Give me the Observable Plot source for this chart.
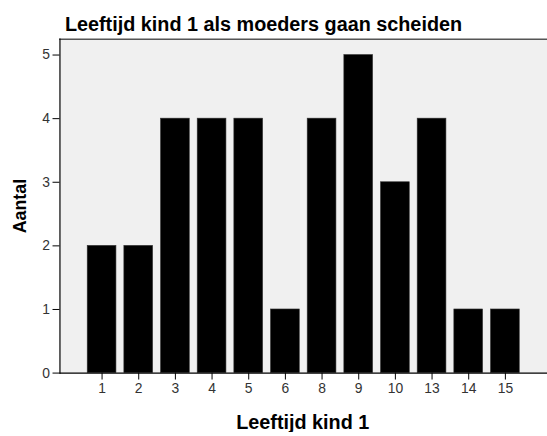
<!DOCTYPE html>
<html><head><meta charset="utf-8">
<script src="https://cdn.jsdelivr.net/npm/d3@7"></script>
<script src="https://cdn.jsdelivr.net/npm/@observablehq/plot@0.6"></script>
<style>
html,body{margin:0;padding:0;background:#fff;overflow:hidden;}
#wrap{width:547px;height:436px;overflow:hidden;}
</style></head>
<body><div id="wrap"></div>
<script>
const categories = ["1","2","3","4","5","6","8","9","10","13","14","15"];
const counts = [2,2,4,4,4,1,4,5,3,4,1,1];
const yTicks = [0,1,2,3,4,5];
const titleText = "Leeftijd kind 1 als moeders gaan scheiden";
const xLabel = "Leeftijd kind 1";
const yLabel = "Aantal";

const data = categories.map((c,i)=>({cat:c, n:counts[i]}));
const font = "Arial, 'Liberation Sans', sans-serif";

const chart = Plot.plot({
  width: 552, height: 436,
  marginTop: 39, marginBottom: 60, marginLeft: 60, marginRight: 0,
  style: {fontFamily: font, fontSize: "14px", background: "#fff", color: "#222"},
  x: {domain: categories, paddingInner: 0.22, paddingOuter: 0.63, label: null},
  y: {domain: [0, 5.25], label: null},
  marks: [
    Plot.frame({fill: "#f0f0f0", stroke: null}),
    Plot.frame({anchor: "top", stroke: "#555", strokeWidth: 1.5}),
    Plot.barY(data, {x: "cat", y: "n", fill: "#000", stroke: "#333", strokeWidth: 0.6}),
    Plot.axisX({tickSize: 7, tickPadding: 3, fontSize: 14, color: "#333", stroke:"#000", label: null}),
    Plot.axisY({ticks: yTicks, tickSize: 7, tickPadding: 3, fontSize: 14, color: "#333", stroke:"#000", label: null, tickFormat: d=>String(d)}),
    Plot.frame({anchor: "left", stroke: "#000", strokeWidth: 1.2}),
    Plot.frame({anchor: "bottom", stroke: "#000", strokeWidth: 1.2}),
    Plot.text([titleText], {text: d=>d, frameAnchor: "top-left", dx: 5, dy: -15, lineAnchor: "middle", textAnchor: "start", fontSize: 20, fontWeight: "bold", fill: "#000"}),
    Plot.text([xLabel], {text: d=>d, frameAnchor: "bottom", dx: -1, dy: 50, lineAnchor: "middle", textAnchor: "middle", fontSize: 20, fontWeight: "bold", fill: "#000"}),
    Plot.text([yLabel], {text: d=>d, frameAnchor: "left", dx: -40, rotate: -90, lineAnchor: "middle", textAnchor: "middle", fontSize: 18, fontWeight: "bold", fill: "#000"})
  ]
});
document.getElementById("wrap").appendChild(chart);
</script></body></html>
